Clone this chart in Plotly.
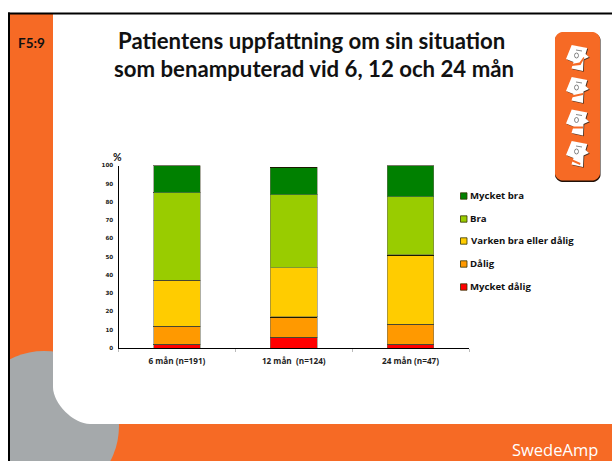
import plotly.graph_objects as go

W, H = 612, 461
FONT = "Lato"

categories = ["6 mån (n=191)", "12 mån  (n=124)", "24 mån (n=47)"]
series_names = ["Mycket dålig", "Dålig", "Varken bra eller dålig", "Bra", "Mycket bra"]
mycket_dalig = [2, 6, 2]
dalig = [10, 11, 11]
varken = [25, 27, 38]
bra = [48, 40, 32]
mycket_bra = [15, 15, 17]
series_values = [mycket_dalig, dalig, varken, bra, mycket_bra]
series_colors = ["#FF0000", "#FF9900", "#FFCC00", "#99CC00", "#008000"]
y_ticks = list(range(0, 101, 10))

ORANGE = "#F66A25"
GRAY = "#A5A9AB"


def px(x):
    return x / W


def py(y):
    return 1 - y / H


def rect(x0, y0, x1, y1, fill):
    return dict(type="rect", xref="paper", yref="paper", x0=px(x0), x1=px(x1), y0=py(y0), y1=py(y1),
                fillcolor=fill, line=dict(width=0), layer="below")


def circle(cx, cy, r, fill):
    return dict(type="circle", xref="paper", yref="paper", x0=px(cx - r), x1=px(cx + r), y0=py(cy + r), y1=py(cy - r),
                fillcolor=fill, line=dict(width=0), layer="below")


def poly(points, fill, layer="below", line=None):
    d = "M" + " L".join(f"{px(a):.5f},{py(b):.5f}" for a, b in points) + " Z"
    return dict(type="path", xref="paper", yref="paper", path=d, fillcolor=fill,
                line=line or dict(width=0), layer=layer)


def round_rect(x0, y0, x1, y1, r, fill, corners=(1, 1, 1, 1), layer="below"):
    # corners: tl, tr, br, bl
    k = 0.45 * r
    P = lambda a, b: f"{px(a):.5f},{py(b):.5f}"
    tl, tr, br, bl = [r * c for c in corners]
    d = f"M{P(x0 + tl, y0)} L{P(x1 - tr, y0)} "
    if tr:
        d += f"C{P(x1 - tr + k, y0)} {P(x1, y0 + tr - k)} {P(x1, y0 + tr)} "
    d += f"L{P(x1, y1 - br)} "
    if br:
        d += f"C{P(x1, y1 - br + k)} {P(x1 - br + k, y1)} {P(x1 - br, y1)} "
    d += f"L{P(x0 + bl, y1)} "
    if bl:
        d += f"C{P(x0 + bl - k, y1)} {P(x0, y1 - bl + k)} {P(x0, y1 - bl)} "
    d += f"L{P(x0, y0 + tl)} "
    if tl:
        d += f"C{P(x0, y0 + tl - k)} {P(x0 + tl - k, y0)} {P(x0 + tl, y0)} "
    d += "Z"
    return dict(type="path", xref="paper", yref="paper", path=d, fillcolor=fill, line=dict(width=0), layer=layer)


shapes = [
    rect(9, 13, W, H, ORANGE),
    circle(44, 426, 75, GRAY),
    rect(0, 0, 8, H, "white"),
    round_rect(53, 14, W + 40, 424, 37, "white", corners=(0, 0, 0, 1)),
    rect(8, 12.5, W, 14.5, "#000000"),
    rect(8, 12.5, 10, H, "#000000"),
    round_rect(555, 33, 600.5, 182, 7, "#201008"),
    round_rect(555, 32, 600, 180.5, 7, ORANGE),
]

# faces in the icon box
face = [(-5.8, -13), (9.8, -10), (8, -4), (11.5, -1), (6, 1.5), (5.5, 13), (-6, 10.5), (-4, 4), (-11.5, 1)]
face_y = [58, 90, 122.5, 154]
mouths = [
    [(-6, 6), (2, 4.5), (6, -1), (7, 0), (3, 7), (-6, 8)],
    [(-6, 5.5), (5.5, 3), (5.5, 5), (-6, 7.5)],
    [(-5.5, 4), (5.5, 4), (5.5, 6), (-5.5, 6)],
    [(-6, 5), (3, 9), (2.5, 11), (-6.5, 7)],
]
for fy, m in zip(face_y, mouths):
    shapes.append(poly([(577.5 + 0.8 + a, fy + 0.8 + b) for a, b in face], "#4a3020"))
    shapes.append(poly([(577.5 + a, fy + b) for a, b in face], "white"))
    shapes.append(poly([(577.5 + a, fy + b) for a, b in m], ORANGE))
    shapes.append(dict(type="circle", xref="paper", yref="paper", x0=px(574.5), x1=px(578.5), y0=py(fy + 0), y1=py(fy - 5),
                       fillcolor="white", line=dict(width=0.7, color="#555555"), layer="below"))
    shapes.append(dict(type="line", xref="paper", yref="paper", x0=px(576), x1=px(582), y0=py(fy - 8), y1=py(fy - 7),
                       line=dict(width=0.7, color="#555555"), layer="below"))

fig = go.Figure()
for name, vals, col in zip(series_names, series_values, series_colors):
    errs = [None, 0, None] if name == "Mycket bra" else [0, 0, 0]
    fig.add_trace(go.Bar(x=categories, y=vals, name=name, width=0.4, showlegend=False,
                         marker=dict(color=col, line=dict(color="rgba(110,110,90,0.55)", width=1)),
                         error_y=dict(type="data", symmetric=True, array=errs, color="#1a1a00",
                                      thickness=1.2, width=23.5)))

PLOT_X0, PLOT_X1, PLOT_Y0, PLOT_Y1 = 118.5, 469, 165.5, 348

annotations = [
    dict(text="Patientens uppfattning om sin situation", x=px(311.5), y=py(41), font=dict(size=22.2, family=FONT, weight="bold")),
    dict(text="som benamputerad vid 6, 12 och 24 mån", x=px(314), y=py(68), font=dict(size=22.2, family=FONT, weight="bold")),
    dict(text="F5:9", x=px(31), y=py(43), font=dict(size=13.5, family=FONT, weight="bold")),
    dict(text="%", x=px(117.5), y=py(157), font=dict(size=10.5, family=FONT, weight="bold")),
    dict(text="SwedeAmp", x=px(554.5), y=py(449), font=dict(size=16.5, family="Open Sans", color="white")),
]
legend_y = [196, 219, 241, 264, 287]
for name, col, ly in zip(reversed(series_names), reversed(series_colors), legend_y):
    shapes.append(dict(type="rect", xref="paper", yref="paper", x0=px(460.5), x1=px(467), y0=py(ly + 3.2), y1=py(ly - 3.2),
                       fillcolor=col, line=dict(color="#333300", width=0.8)))
    annotations.append(dict(text=name, x=px(468.5), y=py(ly - 0.5), xanchor="left",
                            font=dict(size=9.6, family="Open Sans", weight="bold")))
for a in annotations:
    a.update(xref="paper", yref="paper", showarrow=False)
    a.setdefault("xanchor", "center")
    a.setdefault("yanchor", "middle")
    a["font"].setdefault("color", "#111111")

fig.update_layout(
    width=W, height=H, margin=dict(l=0, r=0, t=0, b=0, pad=0, autoexpand=False),
    paper_bgcolor="white", plot_bgcolor="rgba(0,0,0,0)",
    barmode="stack", bargap=0.6, showlegend=False,
    shapes=shapes, annotations=annotations,
    xaxis=dict(domain=[px(PLOT_X0), px(PLOT_X1)], showgrid=False, zeroline=False, showline=True, automargin=False,
               linecolor="#000000", linewidth=1.3, ticks="outside", tickson="boundaries", ticklen=3, tickwidth=1,
               tickcolor="#bbbbbb", ticklabelstandoff=5,
               tickfont=dict(size=8.2, family="Open Sans", color="#222222", weight="bold"), fixedrange=True),
    yaxis=dict(domain=[py(PLOT_Y1), py(PLOT_Y0)], range=[0, 100], tickvals=y_ticks, showgrid=False, zeroline=False,
               showline=True, linecolor="#000000", linewidth=1.3, ticks="", ticklen=0, automargin=False,
               ticklabelstandoff=3,
               tickfont=dict(size=5.6, family="DejaVu Sans", color="#222222", weight="bold"),
               fixedrange=True),
)

fig.write_html("out.html", config=dict(displayModeBar=False),
               post_script="document.body.style.margin='0';document.body.style.overflow='hidden';")
